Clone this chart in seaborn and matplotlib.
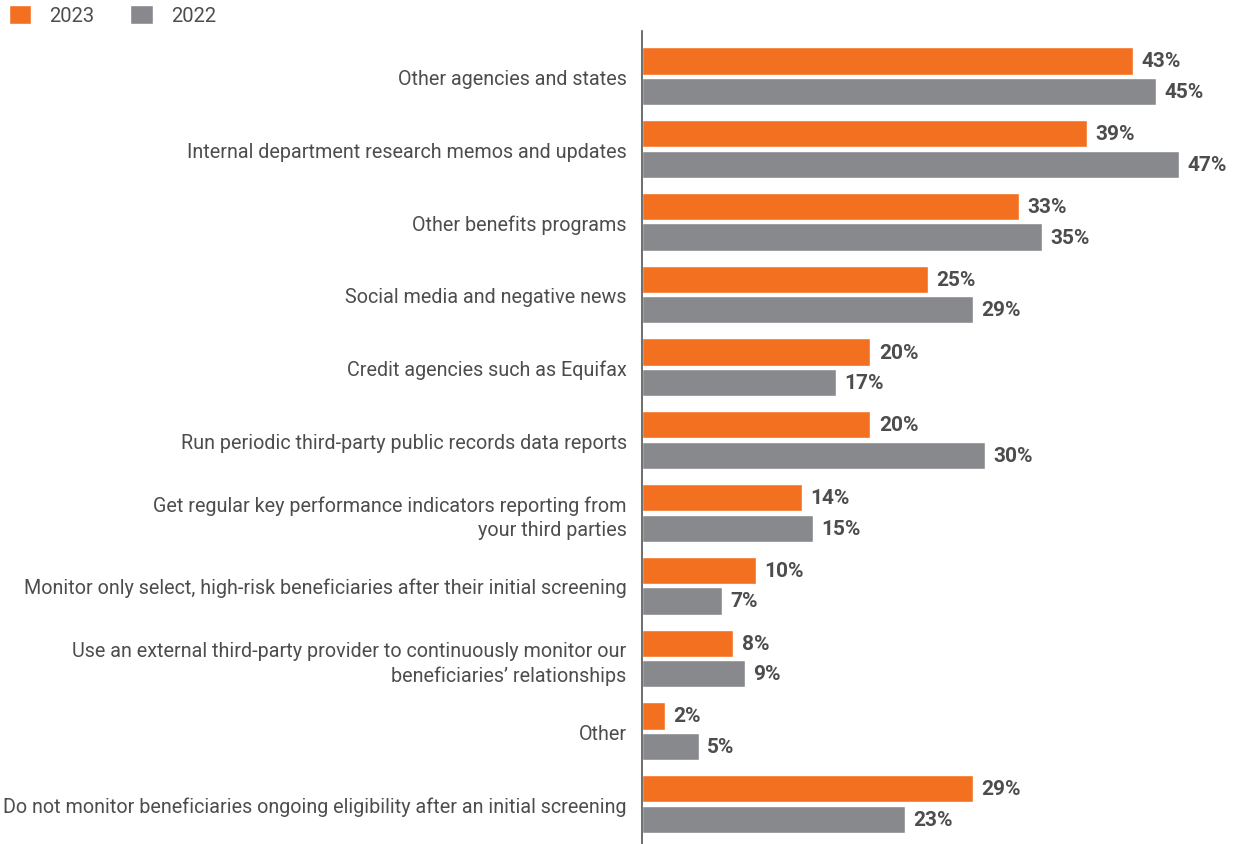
import pandas as pd
import seaborn as sns
import matplotlib.pyplot as plt

# ---DATA-----------------------------------------------------------------------
categories = [
    "Other agencies and states",
    "Internal department research memos and updates",
    "Other benefits programs",
    "Social media and negative news",
    "Credit agencies such as Equifax",
    "Run periodic third-party public records data reports",
    "Get regular key performance indicators reporting from\nyour third parties",
    "Monitor only select, high-risk beneficiaries after their initial screening",
    "Use an external third-party provider to continuously monitor our\nbeneficiaries\u2019 relationships",
    "Other",
    "Do not monitor beneficiaries ongoing eligibility after an initial screening",
]
years = ["2023", "2022"]
values_2023 = [43, 39, 33, 25, 20, 20, 14, 10, 8, 2, 29]
values_2022 = [45, 47, 35, 29, 17, 30, 15, 7, 9, 5, 23]

# ---PLOT-----------------------------------------------------------------------
df = pd.DataFrame({
    "category": categories * 2,
    "year": [years[0]] * len(categories) + [years[1]] * len(categories),
    "value": values_2023 + values_2022,
})

sns.set_style("white")
plt.rcParams["font.family"] = ["Roboto", "DejaVu Sans"]
text_color = "#4d4d4f"
palette = {"2023": "#f37021", "2022": "#88898d"}

fig = plt.figure(figsize=(12.36, 8.45), dpi=100)
ax = fig.add_axes([0.5194, 0.0, 0.4806, 0.962])

sns.barplot(data=df, x="value", y="category", hue="year", palette=palette,
            orient="h", width=0.84, gap=0.11, dodge=True, saturation=1,
            ax=ax)

for cont in ax.containers:
    ax.bar_label(cont, fmt="%d%%", padding=6, fontsize=15, fontweight="bold",
                 color=text_color)

ax.set_xlim(0, 52)
ax.set_ylim(10.55, -0.62)
ax.set_xlabel("")
ax.set_ylabel("")
ax.set_xticks([])
ax.tick_params(axis="y", length=0, pad=11, labelsize=14.2, labelcolor=text_color)
for lab in ax.get_yticklabels():
    lab.set_linespacing(1.35)
for s in ["top", "right", "bottom"]:
    ax.spines[s].set_visible(False)
ax.spines["left"].set_color("#555555")
ax.spines["left"].set_linewidth(1.2)

sns.move_legend(ax, "upper left", bbox_to_anchor=(-0.006, 1.012),
                bbox_transform=fig.transFigure, ncol=2, frameon=False,
                title=None, fontsize=14.5, handlelength=1.1, handleheight=1.1,
                handletextpad=0.9, columnspacing=1.8, borderpad=0.3,
                labelcolor=text_color)

plt.savefig("out.png", dpi=100)
